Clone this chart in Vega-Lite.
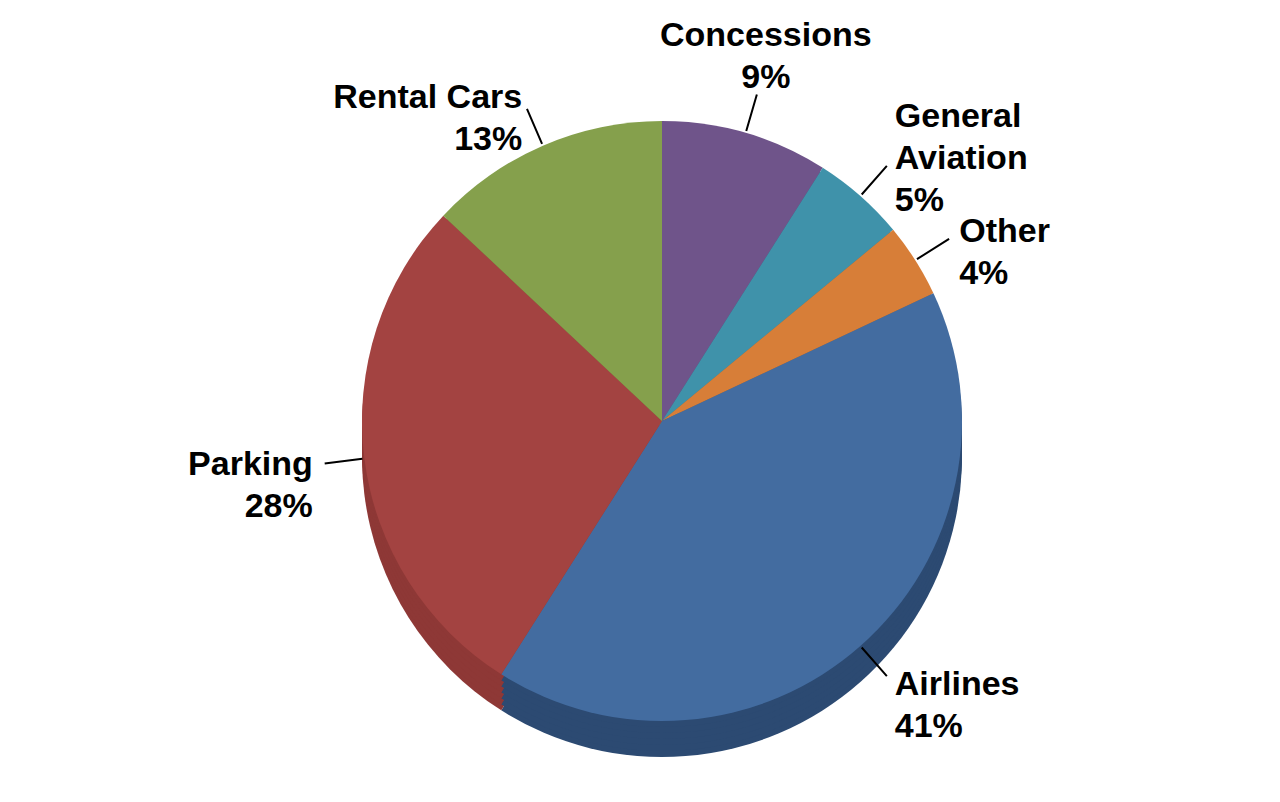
{
  "$schema": "https://vega.github.io/schema/vega-lite/v6.json",
  "width": 1280,
  "height": 802,
  "autosize": {"type": "fit", "contains": "padding"},
  "padding": {"left": 44, "top": 38, "right": 0, "bottom": 0},
  "background": "white",
  "config": {"view": {"stroke": null}},
  "data": {
    "values": [
      {"category": "Concessions", "value": 9, "order": 1, "label": "Concessions\n9%"},
      {"category": "General Aviation", "value": 5, "order": 2, "label": "General\nAviation\n5%"},
      {"category": "Other", "value": 4, "order": 3, "label": "Other\n4%"},
      {"category": "Airlines", "value": 41, "order": 4, "label": "Airlines\n41%"},
      {"category": "Parking", "value": 28, "order": 5, "label": "Parking\n28%"},
      {"category": "Rental Cars", "value": 13, "order": 6, "label": "Rental Cars\n13%"}
    ]
  },
  "transform": [
    {"stack": "value", "groupby": [], "sort": [{"field": "order", "order": "ascending"}], "as": ["start", "end"]},
    {"calculate": "(datum.start + datum.end) / 2", "as": "mid"}
  ],
  "layer": [
    {
      "mark": {"type": "arc", "radius": 300, "yOffset": 36},
      "encoding": {
        "theta": {"field": "start", "type": "quantitative", "scale": {"domain": [0, 100]}},
        "theta2": {"field": "end"},
        "color": {"field": "category", "type": "nominal", "legend": null,
          "scale": {"domain": ["Concessions", "General Aviation", "Other", "Airlines", "Parking", "Rental Cars"],
                    "range": ["#5a4470", "#327689", "#ad652d", "#2c4a72", "#8e3836", "#6b813d"]}}
      }
    },
    {
      "mark": {"type": "arc", "radius": 300, "yOffset": 30},
      "encoding": {
        "theta": {"field": "start", "type": "quantitative", "scale": {"domain": [0, 100]}},
        "theta2": {"field": "end"},
        "color": {"field": "category", "type": "nominal", "legend": null,
          "scale": {"domain": ["Concessions", "General Aviation", "Other", "Airlines", "Parking", "Rental Cars"],
                    "range": ["#5a4470", "#327689", "#ad652d", "#2c4a72", "#8e3836", "#6b813d"]}}
      }
    },
    {
      "mark": {"type": "arc", "radius": 300, "yOffset": 24},
      "encoding": {
        "theta": {"field": "start", "type": "quantitative", "scale": {"domain": [0, 100]}},
        "theta2": {"field": "end"},
        "color": {"field": "category", "type": "nominal", "legend": null,
          "scale": {"domain": ["Concessions", "General Aviation", "Other", "Airlines", "Parking", "Rental Cars"],
                    "range": ["#5a4470", "#327689", "#ad652d", "#2c4a72", "#8e3836", "#6b813d"]}}
      }
    },
    {
      "mark": {"type": "arc", "radius": 300, "yOffset": 18},
      "encoding": {
        "theta": {"field": "start", "type": "quantitative", "scale": {"domain": [0, 100]}},
        "theta2": {"field": "end"},
        "color": {"field": "category", "type": "nominal", "legend": null,
          "scale": {"domain": ["Concessions", "General Aviation", "Other", "Airlines", "Parking", "Rental Cars"],
                    "range": ["#5a4470", "#327689", "#ad652d", "#2c4a72", "#8e3836", "#6b813d"]}}
      }
    },
    {
      "mark": {"type": "arc", "radius": 300, "yOffset": 12},
      "encoding": {
        "theta": {"field": "start", "type": "quantitative", "scale": {"domain": [0, 100]}},
        "theta2": {"field": "end"},
        "color": {"field": "category", "type": "nominal", "legend": null,
          "scale": {"domain": ["Concessions", "General Aviation", "Other", "Airlines", "Parking", "Rental Cars"],
                    "range": ["#5a4470", "#327689", "#ad652d", "#2c4a72", "#8e3836", "#6b813d"]}}
      }
    },
    {
      "mark": {"type": "arc", "radius": 300, "yOffset": 6},
      "encoding": {
        "theta": {"field": "start", "type": "quantitative", "scale": {"domain": [0, 100]}},
        "theta2": {"field": "end"},
        "color": {"field": "category", "type": "nominal", "legend": null,
          "scale": {"domain": ["Concessions", "General Aviation", "Other", "Airlines", "Parking", "Rental Cars"],
                    "range": ["#5a4470", "#327689", "#ad652d", "#2c4a72", "#8e3836", "#6b813d"]}}
      }
    },
    {
      "mark": {"type": "arc", "radius": 300},
      "encoding": {
        "theta": {"field": "start", "type": "quantitative", "scale": {"domain": [0, 100]}},
        "theta2": {"field": "end"},
        "color": {"field": "category", "type": "nominal", "legend": null,
          "scale": {"domain": ["Concessions", "General Aviation", "Other", "Airlines", "Parking", "Rental Cars"],
                    "range": ["#6f548a", "#3f92aa", "#d77e38", "#436ca0", "#a34341", "#85a04c"]}}
      }
    },
    {
      "mark": {"type": "arc", "radius": 340, "radius2": 302, "stroke": "black", "strokeWidth": 2, "fill": null},
      "encoding": {
        "theta": {"field": "mid", "type": "quantitative", "scale": {"domain": [0, 100]}},
        "theta2": {"field": "mid"}
      }
    },
    {
      "transform": [{"filter": "datum.category === 'Concessions'"}],
      "mark": {"type": "text", "radius": 372, "dy": -28, "font": "Liberation Sans", "fontWeight": "bold", "fontSize": 34, "lineHeight": 42, "lineBreak": "\n", "align": "center", "baseline": "middle", "color": "black"},
      "encoding": {
        "theta": {"field": "mid", "type": "quantitative", "scale": {"domain": [0, 100]}},
        "text": {"field": "label", "type": "nominal"}
      }
    },
    {
      "transform": [{"filter": "datum.category === 'General Aviation'"}],
      "mark": {"type": "text", "radius": 352, "dy": -40, "font": "Liberation Sans", "fontWeight": "bold", "fontSize": 34, "lineHeight": 42, "lineBreak": "\n", "align": "left", "baseline": "middle", "color": "black"},
      "encoding": {
        "theta": {"field": "mid", "type": "quantitative", "scale": {"domain": [0, 100]}},
        "text": {"field": "label", "type": "nominal"}
      }
    },
    {
      "transform": [{"filter": "datum.category === 'Other' || datum.category === 'Airlines'"}],
      "mark": {"type": "text", "radius": 352, "font": "Liberation Sans", "fontWeight": "bold", "fontSize": 34, "lineHeight": 42, "lineBreak": "\n", "align": "left", "baseline": "middle", "color": "black"},
      "encoding": {
        "theta": {"field": "mid", "type": "quantitative", "scale": {"domain": [0, 100]}},
        "text": {"field": "label", "type": "nominal"}
      }
    },
    {
      "transform": [{"filter": "datum.category === 'Parking' || datum.category === 'Rental Cars'"}],
      "mark": {"type": "text", "radius": 352, "font": "Liberation Sans", "fontWeight": "bold", "fontSize": 34, "lineHeight": 42, "lineBreak": "\n", "align": "right", "baseline": "middle", "color": "black"},
      "encoding": {
        "theta": {"field": "mid", "type": "quantitative", "scale": {"domain": [0, 100]}},
        "text": {"field": "label", "type": "nominal"}
      }
    }
  ],
  "resolve": {"scale": {"color": "independent"}}
}
